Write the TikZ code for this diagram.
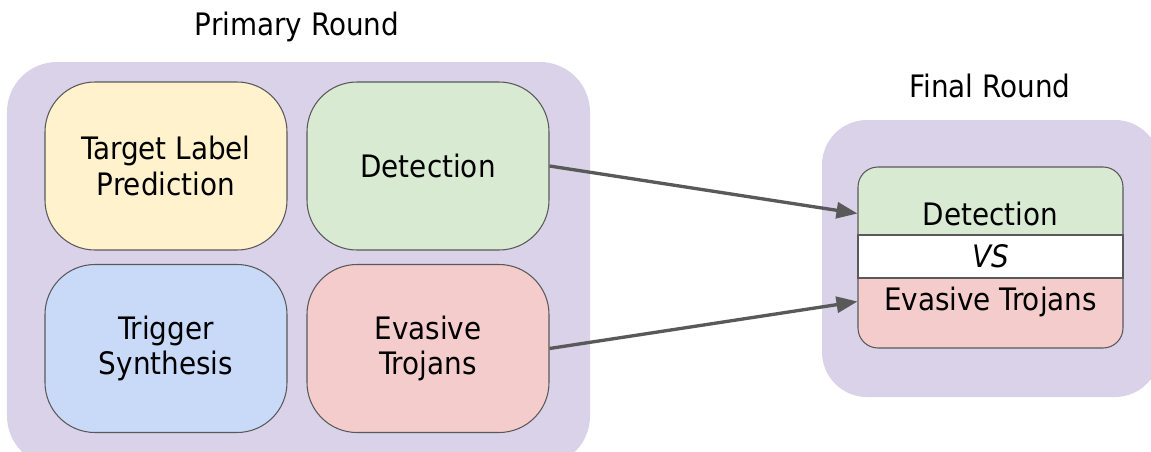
\documentclass[tikz,border=0pt]{standalone}
\usepackage{fontspec}
\setmainfont{DejaVu Sans Condensed}
\usepackage{tikz}
\usetikzlibrary{arrows.meta}

\definecolor{bgpurple}{HTML}{D9D2E9}
\definecolor{taskyellow}{HTML}{FFF2CC}
\definecolor{taskgreen}{HTML}{D9EAD3}
\definecolor{taskblue}{HTML}{C9DAF8}
\definecolor{taskred}{HTML}{F4CCCC}
\definecolor{edgegray}{HTML}{595959}

\tikzset{
  panel/.style={fill=bgpurple, draw=none, rounded corners=1cm},
  task/.style={draw=edgegray, line width=0.6pt, rounded corners=1cm,
    minimum width=4.84cm, minimum height=3.36cm, align=center,
    font=\fontsize{17.6}{20}\selectfont},
  part/.style={draw=edgegray, line width=0.6pt, minimum width=5.3cm,
    font=\fontsize{17.6}{20}\selectfont},
  title/.style={font=\fontsize{17.6}{20}\selectfont},
  flow/.style={edgegray, line width=1.9pt, -{Triangle[length=0.42cm,width=0.32cm]}}
}

\begin{document}
\begin{tikzpicture}

\useasboundingbox (0,0) rectangle (23.02,9.02);

% backgrounds
\fill[panel] (0.14,7.78) rectangle (11.8,-0.3);
\fill[panel, rounded corners=0.9cm] (16.44,6.62) rectangle (23.2,1.08);

\node[title] (ptitle) at (5.94,8.48) {Primary Round};
\node[title] (ftitle) at (19.8,7.30) {Final Round};

% primary round
\node[task, fill=taskyellow] (tlp) at (3.32,5.70) {Target Label\\Prediction};
\node[task, fill=taskgreen] (det) at (8.56,5.70) {Detection};
\node[task, fill=taskblue] (trig) at (3.32,2.05) {Trigger\\Synthesis};
\node[task, fill=taskred] (evt) at (8.56,2.05) {Evasive\\Trojans};

% final round
\node[part, fill=taskgreen, rounded corners=0.4cm, minimum height=1.86cm] (fdet) at (19.81,4.75) {Detection};
\node[part, fill=taskred, rounded corners=0.4cm, minimum height=1.86cm] (fevt) at (19.81,2.99) {Evasive Trojans};
\node[part, fill=white, minimum height=0.86cm] (fvs) at (19.81,3.89) {\textit{VS}};

\draw[flow] (det.east) -- (fdet.west);
\draw[flow] (evt.east) -- (fevt.west);

\end{tikzpicture}
\end{document}
